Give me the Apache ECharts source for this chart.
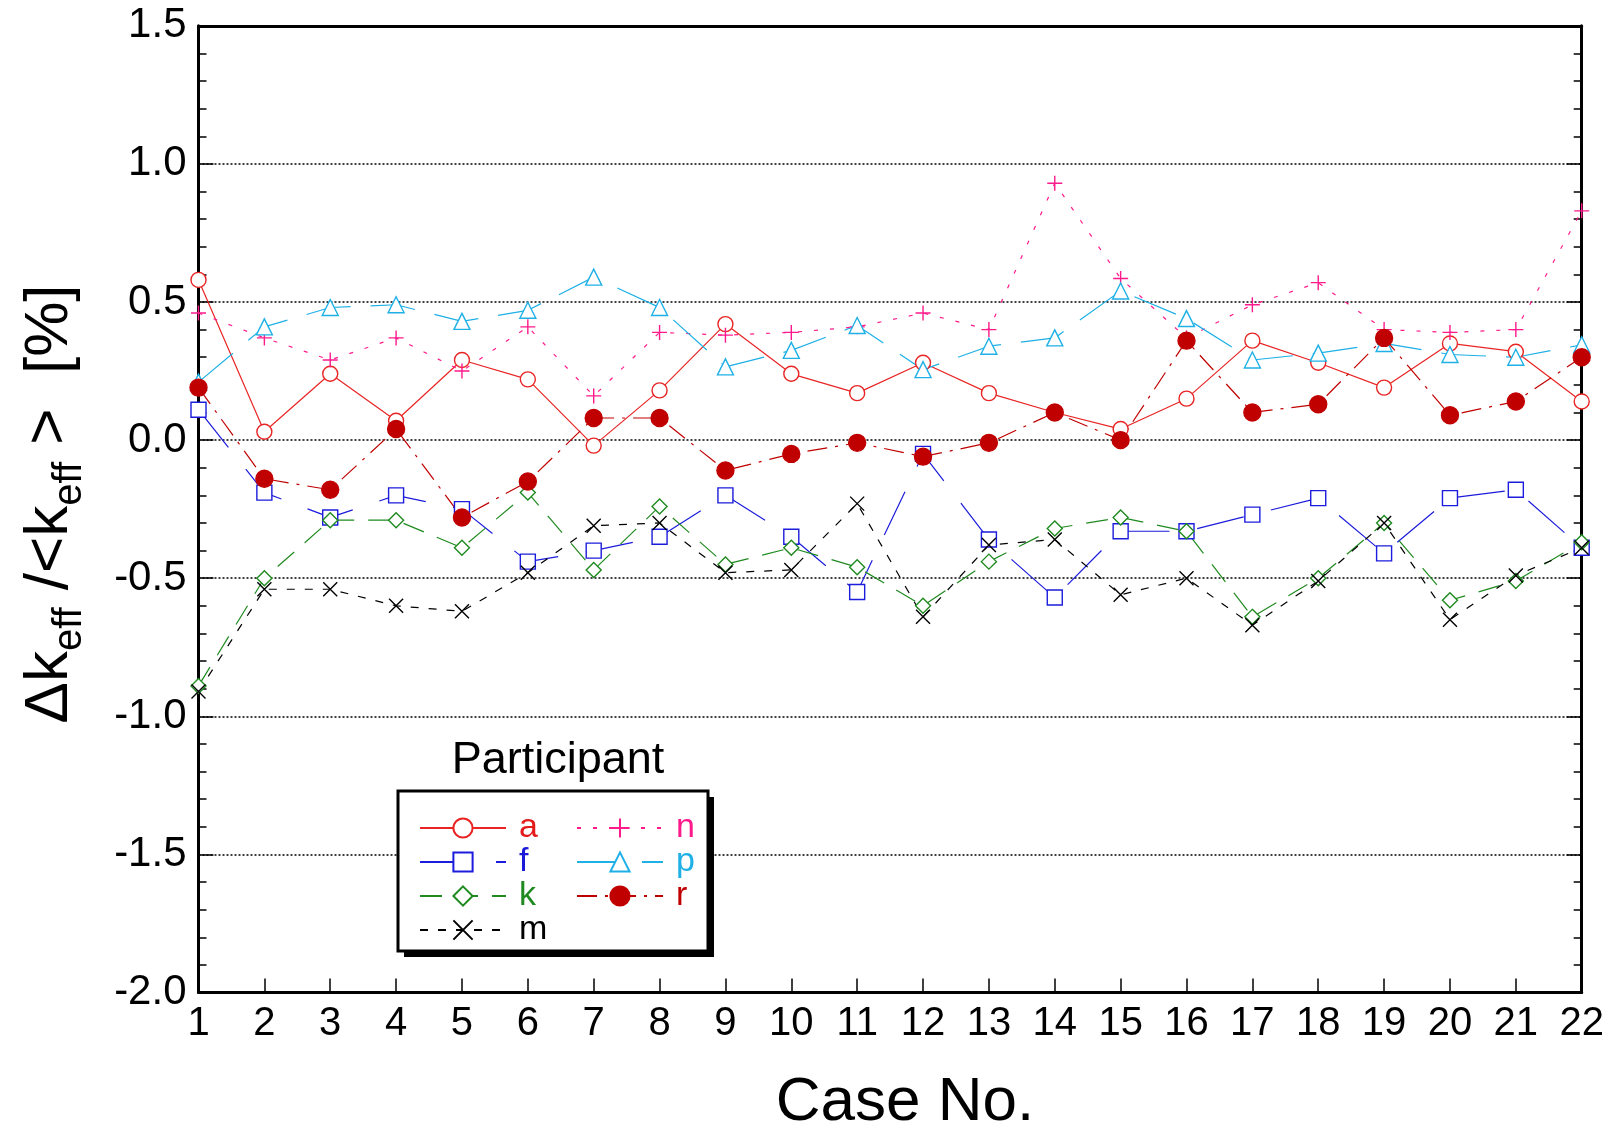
<!DOCTYPE html>
<html><head><meta charset="utf-8">
<script src="https://cdn.jsdelivr.net/npm/echarts@6/dist/echarts.min.js"></script>
<style>html,body{margin:0;padding:0;background:#fff}#c{width:1621px;height:1131px}</style>
</head><body><div id="c"></div>
<script>
const cases = [1,2,3,4,5,6,7,8,9,10,11,12,13,14,15,16,17,18,19,20,21,22];
const seriesA = [0.58,0.03,0.24,0.07,0.29,0.22,-0.02,0.18,0.42,0.24,0.17,0.28,0.17,0.10,0.04,0.15,0.36,0.28,0.19,0.35,0.32,0.14];
const seriesF = [0.11,-0.19,-0.28,-0.20,-0.25,-0.44,-0.40,-0.35,-0.20,-0.35,-0.55,-0.05,-0.36,-0.57,-0.33,-0.33,-0.27,-0.21,-0.41,-0.21,-0.18,-0.39];
const seriesK = [-0.89,-0.50,-0.29,-0.29,-0.39,-0.19,-0.47,-0.24,-0.45,-0.39,-0.46,-0.60,-0.44,-0.32,-0.28,-0.33,-0.64,-0.50,-0.30,-0.58,-0.51,-0.37];
const seriesM = [-0.91,-0.54,-0.54,-0.60,-0.62,-0.48,-0.31,-0.30,-0.48,-0.47,-0.23,-0.64,-0.38,-0.36,-0.56,-0.50,-0.67,-0.51,-0.30,-0.65,-0.49,-0.39];
const seriesN = [0.46,0.37,0.29,0.37,0.25,0.41,0.16,0.39,0.38,0.39,0.41,0.46,0.40,0.93,0.585,0.37,0.49,0.57,0.40,0.39,0.40,0.83];
const seriesP = [0.21,0.41,0.48,0.49,0.43,0.47,0.59,0.48,0.265,0.325,0.415,0.255,0.34,0.37,0.54,0.44,0.29,0.315,0.35,0.31,0.30,0.345];
const seriesR = [0.19,-0.14,-0.18,0.04,-0.28,-0.15,0.08,0.08,-0.11,-0.05,-0.01,-0.06,-0.01,0.10,0.0,0.36,0.10,0.13,0.37,0.09,0.14,0.30];
const yTicks = [-2.0,-1.5,-1.0,-0.5,0.0,0.5,1.0,1.5];

const FONT = 'Liberation Sans';
const plusPath = 'path://M5,0L5,10M0,5L10,5';
const crossPath = 'path://M0,0L10,10M10,0L0,10';

function mk(name, vals, color, dash, symbol, size, filled) {
  return {
    name: name, type: 'line', data: cases.map((c, i) => [c, vals[i]]),
    symbol: symbol, symbolSize: size, showSymbol: true,
    lineStyle: { color: color, width: 1.2, type: dash },
    itemStyle: { color: filled ? color : '#fff', borderColor: color, borderWidth: 1.4 },
    emphasis: { disabled: true }, animation: false, z: 3
  };
}

const chart = echarts.init(document.getElementById('c'), null, { renderer: 'canvas' });
const L = 198.5, R = 1581.7, T = 25.8, B = 992.5;
const option = {
  backgroundColor: '#fff',
  animation: false,
  grid: { left: L, right: 1621 - R, top: T, bottom: 1131 - B, containLabel: false },
  xAxis: [{
    type: 'value', min: 1, max: 22, interval: 1,
    axisLine: { show: true, onZero: false, lineStyle: { color: '#000', width: 3 } },
    axisTick: { show: true, inside: true, length: 14, lineStyle: { color: '#000', width: 1.5 } },
    axisLabel: { show: true, color: '#000', fontFamily: FONT, fontSize: 40, margin: 11 },
    splitLine: { show: false }
  }, {
    type: 'value', min: 1, max: 22, interval: 1, position: 'top',
    axisLine: { show: true, onZero: false, lineStyle: { color: '#000', width: 3 } },
    axisTick: { show: false }, axisLabel: { show: false }, splitLine: { show: false }
  }],
  yAxis: [{
    type: 'value', min: -2, max: 1.5, interval: 0.5,
    axisLine: { show: true, onZero: false, lineStyle: { color: '#000', width: 3 } },
    axisTick: { show: true, inside: true, length: 15, lineStyle: { color: '#000', width: 1.5 } },
    minorTick: { show: true, splitNumber: 5, length: 8, lineStyle: { color: '#000', width: 1.5 } },
    axisLabel: { show: true, color: '#000', fontFamily: FONT, fontSize: 42, margin: 12,
      formatter: v => { const t = yTicks.find(x => Math.abs(x - v) < 1e-9); return (t === undefined ? v : t).toFixed(1); } },
    splitLine: { show: true, lineStyle: { color: '#000', width: 1.5, type: [2, 2] } }
  }, {
    type: 'value', min: -2, max: 1.5, interval: 0.5, position: 'right',
    axisLine: { show: true, onZero: false, lineStyle: { color: '#000', width: 3 } },
    axisTick: { show: true, inside: true, length: 15, lineStyle: { color: '#000', width: 1.5 } },
    minorTick: { show: true, splitNumber: 5, length: 8, lineStyle: { color: '#000', width: 1.5 } },
    axisLabel: { show: false }, splitLine: { show: false }
  }],
  legend: [{
    orient: 'vertical', left: 414, top: 806, itemWidth: 86, itemHeight: 24, itemGap: 0,
    data: [
      { name: 'a', textStyle: { color: '#e31b1b' } },
      { name: 'f', textStyle: { color: '#1a1ad8' } },
      { name: 'k', textStyle: { color: '#1f8a1f' } },
      { name: 'm', textStyle: { color: '#000' } }
    ],
    textStyle: { fontFamily: FONT, fontSize: 34, lineHeight: 33, padding: [0, 0, 0, 8] },
    selectedMode: false, z: 20
  }, {
    orient: 'vertical', left: 571, top: 806, itemWidth: 86, itemHeight: 24, itemGap: 0,
    data: [
      { name: 'n', textStyle: { color: '#ff1a8c' } },
      { name: 'p', textStyle: { color: '#1eb0e6' } },
      { name: 'r', textStyle: { color: '#c00000' } }
    ],
    textStyle: { fontFamily: FONT, fontSize: 34, lineHeight: 33, padding: [0, 0, 0, 8] },
    selectedMode: false, z: 20
  }],
  graphic: [
    { type: 'rect', shape: { x: 404, y: 797, width: 310, height: 160 }, style: { fill: '#000' }, z: 10 },
    { type: 'rect', shape: { x: 398, y: 791, width: 310, height: 160 }, style: { fill: '#fff', stroke: '#000', lineWidth: 3 }, z: 11 },
    { type: 'text', x: 558, y: 761, z: 12,
      style: { text: 'Participant', fontFamily: FONT, fontSize: 45, fill: '#000', align: 'center', verticalAlign: 'middle' } },
    { type: 'text', x: 905, y: 1103, z: 12,
      style: { text: 'Case No.', fontFamily: FONT, fontSize: 62, fill: '#000', align: 'center', verticalAlign: 'middle' } },
    { type: 'text', x: 50, y: 504, rotation: Math.PI / 2, z: 12,
      style: {
        text: '{b|Δk}{s|eff}{b| /<k}{s|eff}{b| >  [%]}',
        align: 'center', verticalAlign: 'middle', fill: '#000',
        rich: {
          b: { fontFamily: FONT, fontSize: 62, fill: '#000' },
          s: { fontFamily: FONT, fontSize: 40, fill: '#000', padding: [40, 0, 0, 0] }
        }
      } }
  ],
  series: [
    mk('a', seriesA, '#e82424', 'solid', 'circle', 15, false),
    mk('f', seriesF, '#1c1cdc', [48, 28], 'rect', 15, false),
    mk('k', seriesK, '#1f8a1f', [22, 14], 'diamond', 15, false),
    mk('m', seriesM, '#000000', [8, 10], crossPath, 14, false),
    mk('n', seriesN, '#ff1a8c', [4, 12], plusPath, 15, false),
    mk('p', seriesP, '#1eb0e6', [45, 20], 'triangle', 16, false),
    mk('r', seriesR, '#c00000', [20, 8, 3, 8], 'circle', 17, true)
  ]
};
chart.setOption(option);
</script>
</body></html>
